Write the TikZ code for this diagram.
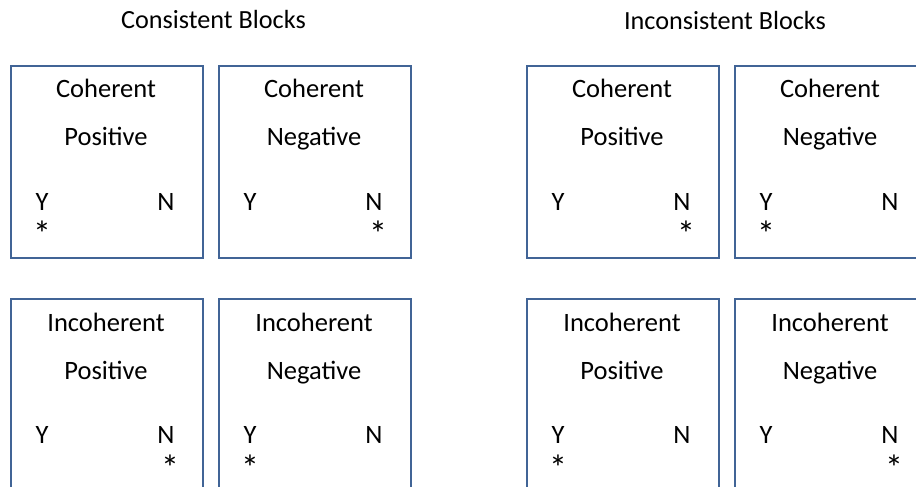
\documentclass[tikz,border=0pt]{standalone}
\usepackage{fontspec}
\setmainfont{Carlito}
\definecolor{boxblue}{RGB}{65,100,150}
\begin{document}
\begin{tikzpicture}[x=1pt,y=-1pt,
  blockbox/.style={draw=boxblue,line width=2pt,minimum width=192pt,minimum height=192pt,anchor=north west,inner sep=0pt},
  lbl/.style={font=\fontsize{26.5}{30}\selectfont,inner sep=0pt,anchor=base},
  ttl/.style={font=\fontsize{26.2}{30}\selectfont,inner sep=0pt,anchor=base},
  star/.style={font=\fontsize{36}{40}\selectfont,inner sep=0pt,anchor=base}]
\useasboundingbox (0,0) rectangle (916,487);
\clip (0,0) rectangle (916,487);
\fill[white] (0,0) rectangle (916,487);
\node[ttl] (t1) at (213.5,28.3) {Consistent Blocks};
\node[ttl] (t2) at (725,29.3) {Inconsistent Blocks};
% top row
\foreach \n/\x/\a/\b/\s/\sx in {b1/10/Coherent/Positive/Y/42, b2/218/Coherent/Negative/N/378, b3/526/Coherent/Positive/N/686, b4/734/Coherent/Negative/Y/766}{
  \node[blockbox] (\n) at (\x,65) {};
  \node[lbl] (\n a) at (\x+96,98) {\a};
  \node[lbl] (\n b) at (\x+96,145) {\b};
  \node[lbl] (\n y) at (\x+32,210) {Y};
  \node[lbl] (\n n) at (\x+156,210) {N};
  \node[star] (\n s) at (\sx,246) {*};
}
% bottom row
\foreach \n/\x/\a/\b/\s/\sx in {c1/10/Incoherent/Positive/N/170, c2/218/Incoherent/Negative/Y/250, c3/526/Incoherent/Positive/Y/558, c4/734/Incoherent/Negative/N/894}{
  \node[blockbox] (\n) at (\x,298) {};
  \node[lbl] (\n a) at (\x+96,331.5) {\a};
  \node[lbl] (\n b) at (\x+96,379) {\b};
  \node[lbl] (\n y) at (\x+32,443) {Y};
  \node[lbl] (\n n) at (\x+156,443) {N};
  \node[star] (\n s) at (\sx,480) {*};
}
\end{tikzpicture}
\end{document}
